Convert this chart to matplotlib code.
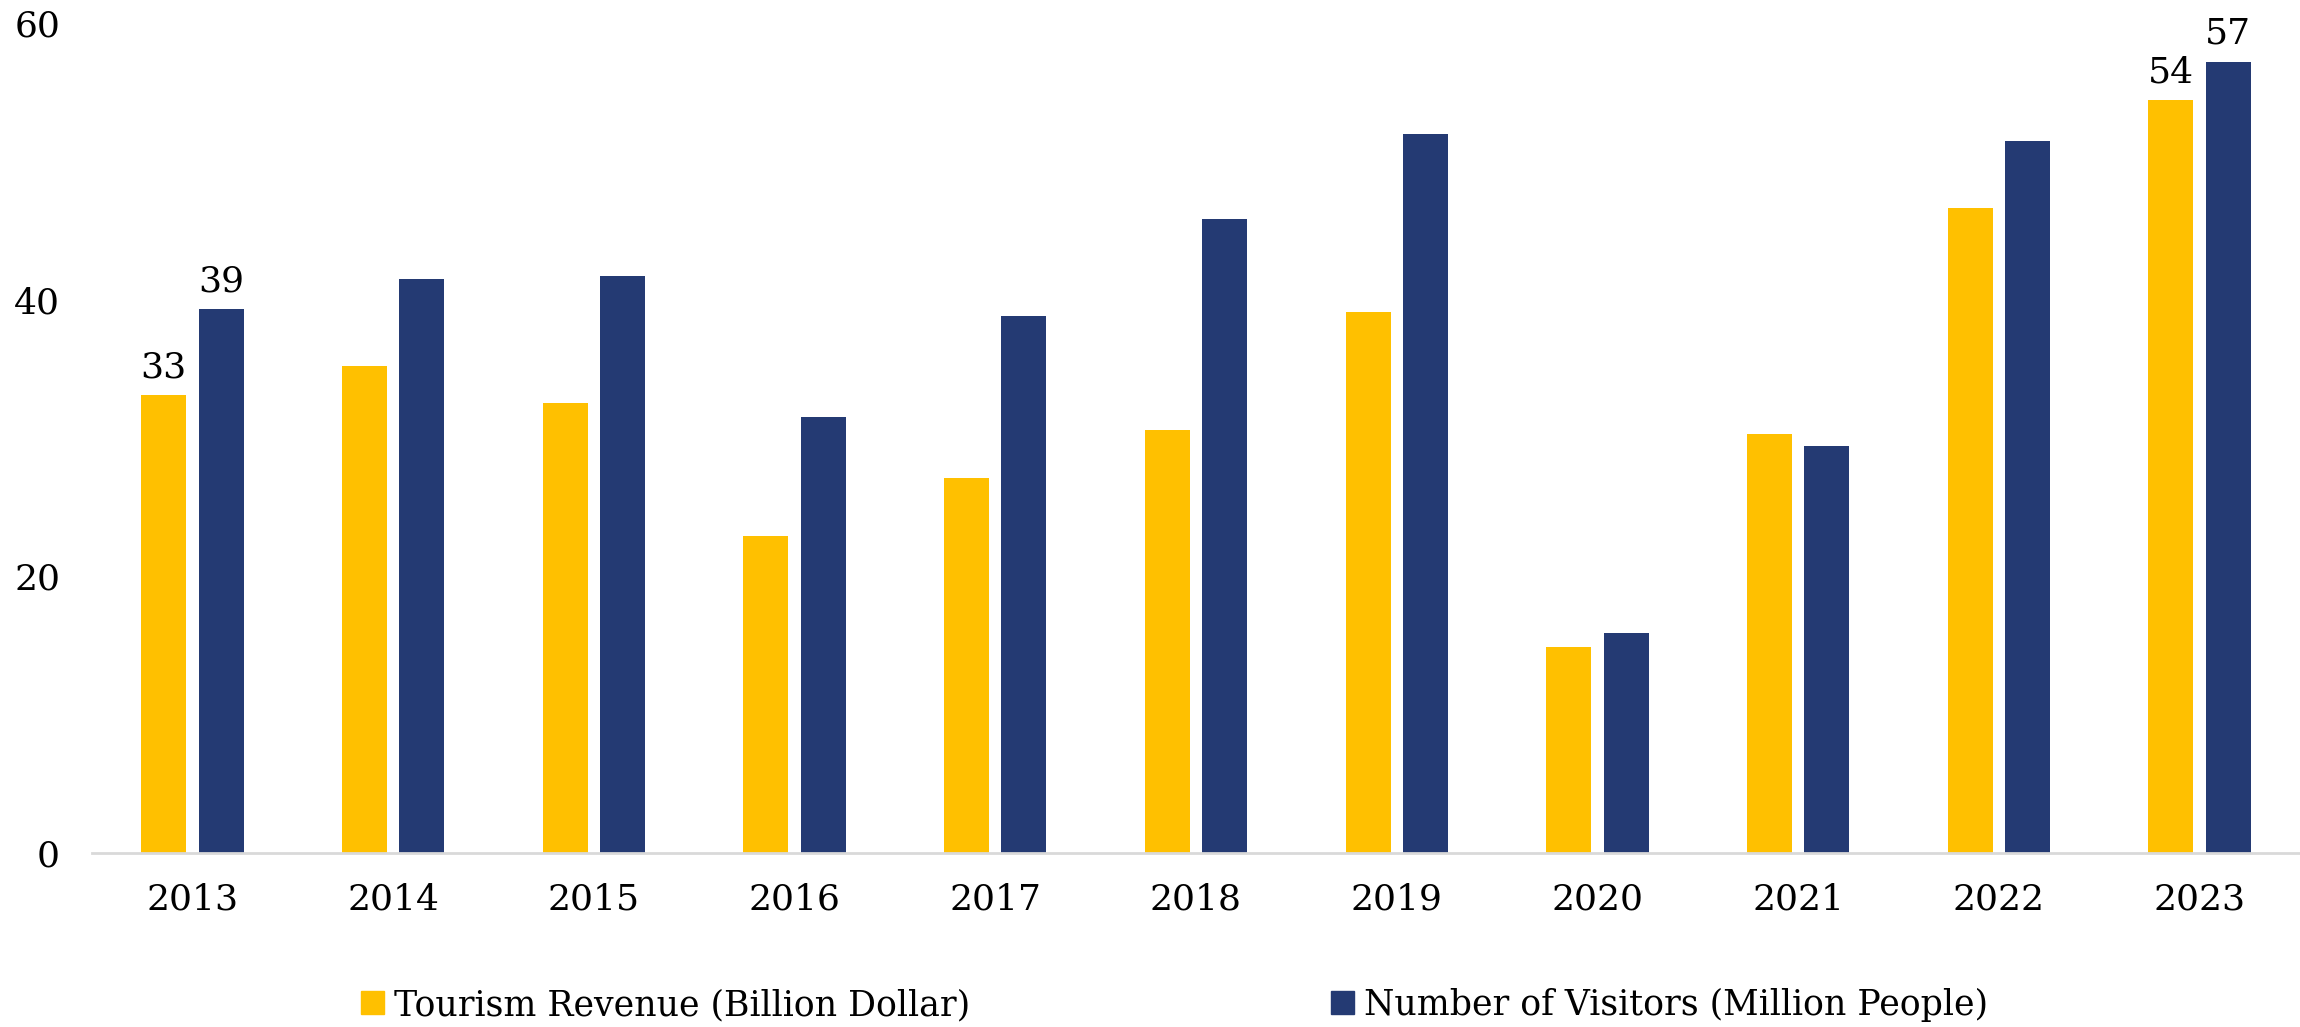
import numpy as np
import matplotlib
matplotlib.use("Agg")
from matplotlib import pyplot as plt
from matplotlib.patches import Patch

years = ["2013", "2014", "2015", "2016", "2017", "2018", "2019", "2020", "2021", "2022", "2023"]
revenue = [33.1, 35.2, 32.5, 22.9, 27.1, 30.6, 39.1, 14.9, 30.3, 46.6, 54.4]
visitors = [39.3, 41.5, 41.7, 31.5, 38.8, 45.8, 52.0, 15.9, 29.4, 51.5, 57.2]
labels = ["Tourism Revenue (Billion Dollar)", "Number of Visitors (Million People)"]
yticks = [0, 20, 40, 60]

YELLOW = "#FFC000"
NAVY = "#243A73"

plt.rcParams["font.family"] = ["DejaVu Serif"]

fig = plt.figure(figsize=(23, 10.27), dpi=100)
ax = fig.add_axes([0.04, 0.1694, 0.96, 0.8082])

x = np.arange(len(years))
w = 0.224
off = 0.143
b1 = ax.bar(x - off, revenue, w, color=YELLOW)
b2 = ax.bar(x + off, visitors, w, color=NAVY)

# labels only on first and last year
for bars, vals in ((b1, revenue), (b2, visitors)):
    for i in (0, len(years) - 1):
        r = bars[i]
        ax.annotate(f"{round(vals[i])}", (r.get_x() + r.get_width() / 2, r.get_height()),
                    xytext=(0, 8), textcoords="offset points",
                    ha="center", va="bottom", fontsize=26)

ax.set_xlim(-0.5, len(years) - 0.5)
ax.set_ylim(0, 60)
ax.set_xticks(x, years)
ax.set_yticks(yticks)
ax.tick_params(axis="both", length=0, labelsize=26)
ax.tick_params(axis="y", pad=23)
ax.tick_params(axis="x", pad=21)
for s in ("top", "right", "left"):
    ax.spines[s].set_visible(False)
ax.spines["bottom"].set_color("#D9D9D9")
ax.spines["bottom"].set_linewidth(2)

handles = [Patch(color=YELLOW), Patch(color=NAVY)]
fig.legend(handles, labels, ncol=2, loc="center left",
           bbox_to_anchor=(0.157, 1 - 1005 / 1027), frameon=False,
           prop={"size": 25},
           handlelength=0.65, handleheight=0.65, handletextpad=0.3,
           columnspacing=10.4, borderpad=0, borderaxespad=0)

fig.savefig("out.png", dpi=100)
